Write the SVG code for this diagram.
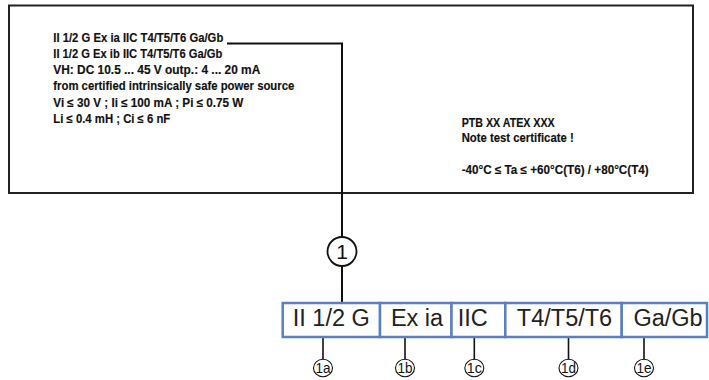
<svg xmlns="http://www.w3.org/2000/svg" width="709" height="380" viewBox="0 0 709 380">
<style>
  .plate{fill:#fff;stroke:#222;stroke-width:2}
  .pt{font-family:"Liberation Sans",Arial,sans-serif;font-weight:bold;font-size:12.2px;fill:#111;stroke:#111;stroke-width:0.15}
  .seg{fill:#fff;stroke:#5b7fc3;stroke-width:2.5}
  .st{font-family:"Liberation Sans",Arial,sans-serif;font-size:23.5px;fill:#222;text-anchor:middle}
  .conn{fill:none;stroke:#111;stroke-width:2}
  .lead{fill:none;stroke:#111;stroke-width:1.6}
  .c1{fill:#fff;stroke:#111;stroke-width:1.8}
  .c1t{font-family:"Liberation Sans",Arial,sans-serif;font-size:21px;fill:#111;text-anchor:middle}
  .cs{fill:#fff;stroke:#111;stroke-width:1.1}
  .cst{font-family:"Liberation Sans",Arial,sans-serif;font-size:14px;fill:#111;text-anchor:middle}
</style>
<rect width="709" height="380" fill="#fff"/>
<g id="plate">
  <rect class="plate" x="9" y="5.5" width="684" height="187.5"/>
  <text class="pt" x="53.3" y="41.5" textLength="170" lengthAdjust="spacingAndGlyphs">II 1/2 G Ex ia IIC T4/T5/T6 Ga/Gb</text>
  <text class="pt" x="53.3" y="57.8" textLength="169" lengthAdjust="spacingAndGlyphs">II 1/2 G Ex ib IIC T4/T5/T6 Ga/Gb</text>
  <text class="pt" x="53.3" y="74.1" textLength="207" lengthAdjust="spacingAndGlyphs">VH: DC 10.5 ... 45 V outp.: 4 ... 20 mA</text>
  <text class="pt" x="53.3" y="90.4" textLength="241" lengthAdjust="spacingAndGlyphs">from certified intrinsically safe power source</text>
  <text class="pt" x="53.3" y="106.7" textLength="190" lengthAdjust="spacingAndGlyphs">Vi ≤ 30 V ; Ii ≤ 100 mA ; Pi ≤ 0.75 W</text>
  <text class="pt" x="53.3" y="123" textLength="117" lengthAdjust="spacingAndGlyphs">Li ≤ 0.4 mH ; Ci ≤ 6 nF</text>
  <text class="pt" x="461.7" y="126.8" textLength="93" lengthAdjust="spacingAndGlyphs">PTB XX ATEX XXX</text>
  <text class="pt" x="461.7" y="141.8" textLength="112" lengthAdjust="spacingAndGlyphs">Note test certificate !</text>
  <text class="pt" x="461.7" y="173.8" textLength="187" lengthAdjust="spacingAndGlyphs">-40°C ≤ Ta ≤ +60°C(T6) / +80°C(T4)</text>
</g>
<g id="connectors">
  <polyline class="conn" points="227,43.5 342,43.5 342,237"/>
  <line class="conn" x1="342" y1="266" x2="342" y2="303"/>
  <line class="lead" x1="323" y1="332" x2="323" y2="359.5"/>
  <line class="lead" x1="405" y1="332" x2="405" y2="359.5"/>
  <line class="lead" x1="474.3" y1="332" x2="474.3" y2="359.5"/>
  <line class="lead" x1="568.5" y1="332" x2="568.5" y2="359.5"/>
  <line class="lead" x1="644" y1="332" x2="644" y2="359.5"/>
</g>
<g id="seg-1a">
  <rect class="seg" x="282.7" y="303" width="97.3" height="34"/>
  <text class="st" x="331.3" y="325.5">II 1/2 G</text>
</g>
<g id="seg-1b">
  <rect class="seg" x="380" y="303" width="71.5" height="34"/>
  <text class="st" x="417" y="325.5">Ex ia</text>
</g>
<g id="seg-1c">
  <rect class="seg" x="451.5" y="303" width="53.8" height="34"/>
  <text class="st" x="472.7" y="325.5">IIC</text>
</g>
<g id="seg-1d">
  <rect class="seg" x="505.3" y="303" width="116.4" height="34"/>
  <text class="st" x="564.5" y="325.5">T4/T5/T6</text>
</g>
<g id="seg-1e">
  <rect class="seg" x="621.7" y="303" width="85.3" height="34"/>
  <text class="st" x="668" y="325.5">Ga/Gb</text>
</g>
<g id="callout-1">
  <circle class="c1" cx="342" cy="251.5" r="14.5"/>
  <text class="c1t" x="342" y="259">1</text>
</g>
<g id="callout-1a">
  <ellipse class="cs" cx="323" cy="368" rx="9.5" ry="8.7"/>
  <text class="cst" x="323" y="373" textLength="15" lengthAdjust="spacingAndGlyphs">1a</text>
</g>
<g id="callout-1b">
  <ellipse class="cs" cx="405" cy="368" rx="9.5" ry="8.7"/>
  <text class="cst" x="405" y="373" textLength="15" lengthAdjust="spacingAndGlyphs">1b</text>
</g>
<g id="callout-1c">
  <ellipse class="cs" cx="474.3" cy="368" rx="9.5" ry="8.7"/>
  <text class="cst" x="474.3" y="373" textLength="15" lengthAdjust="spacingAndGlyphs">1c</text>
</g>
<g id="callout-1d">
  <ellipse class="cs" cx="568.5" cy="368" rx="9.5" ry="8.7"/>
  <text class="cst" x="568.5" y="373" textLength="15" lengthAdjust="spacingAndGlyphs">1d</text>
</g>
<g id="callout-1e">
  <ellipse class="cs" cx="644" cy="368" rx="9.5" ry="8.7"/>
  <text class="cst" x="644" y="373" textLength="15" lengthAdjust="spacingAndGlyphs">1e</text>
</g>
</svg>
